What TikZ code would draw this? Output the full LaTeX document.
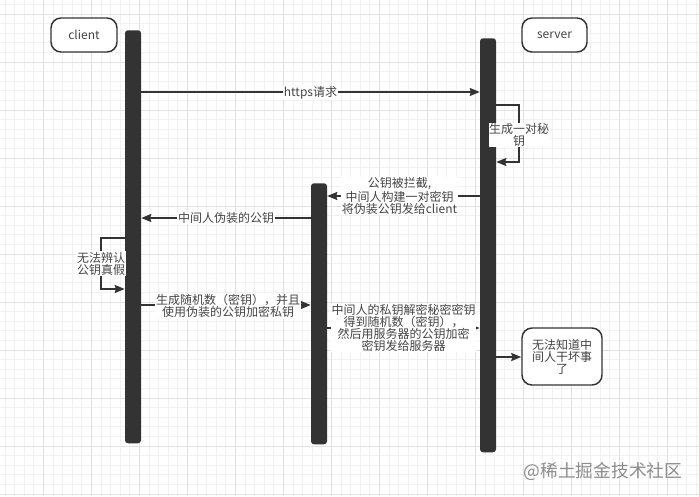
\documentclass[tikz,border=0pt]{standalone}
\usepackage{fontspec}
\setmainfont{Noto Sans CJK SC}
\usetikzlibrary{arrows.meta}
\definecolor{ink}{HTML}{333333}
\definecolor{txt}{HTML}{444444}
\definecolor{gridminor}{HTML}{F1F1F1}
\definecolor{gridmajor}{HTML}{E0E0E0}
\tikzset{
  bar/.style={fill=ink,draw=none,rounded corners=2.2pt,minimum width=12pt,inner sep=0pt,anchor=north},
  actor/.style={draw=ink,line width=1.1pt,fill=white,rounded corners=7.5pt,text=txt,font=\fontsize{9}{9}\selectfont,inner sep=0pt,align=center},
  msg/.style={draw=ink,line width=1.2pt,-{Stealth[length=7.5pt,width=6pt,inset=0.8pt]}},
  lab/.style={fill=white,text=txt,font=\fontsize{9}{9}\selectfont,inner sep=0.6pt,align=center}
}
\begin{document}
\begin{tikzpicture}[x=0.75pt,y=-0.75pt]
\useasboundingbox (0,0) rectangle (699,496);
\fill[white] (0,0) rectangle (699,496);
\foreach \k in {0,...,73} {\draw[gridminor,line width=0.6pt] ({-4.7+9.6*\k},0) -- ({-4.7+9.6*\k},496);}
\foreach \k in {0,...,52} {\draw[gridminor,line width=0.6pt] (0,{4.4+9.6*\k}) -- (699,{4.4+9.6*\k});}
\foreach \k in {0,...,14} {\draw[gridmajor,line width=0.7pt] ({43.3+48*\k},0) -- ({43.3+48*\k},496);}
\foreach \k in {0,...,10} {\draw[gridmajor,line width=0.7pt] (0,{14+48*\k}) -- (699,{14+48*\k});}

\node[actor,minimum width=49.5pt,minimum height=25.5pt] (cl) at (84,35) {client};
\node[actor,minimum width=48.75pt,minimum height=25.5pt] (sv) at (554.5,35) {server};
\node[bar,minimum height=309.75pt] (lc) at (133,30) {};
\node[bar,minimum height=310.5pt] (ls) at (488,38) {};
\node[bar,minimum height=195.75pt] (lm) at (319,183) {};
\node[actor,text width=56pt,minimum width=60pt,minimum height=42.75pt] (nk) at (562,356.5) {无法知道中\\间人干坏事\\了};

\coordinate (a1) at (0,92);
\coordinate (a2) at (0,196);
\coordinate (a3) at (0,218);
\coordinate (a4) at (0,305);
\coordinate (a5) at (0,328);
\coordinate (a6) at (0,357);
\coordinate (s1) at (519,105);
\coordinate (s2) at (519,162);
\coordinate (c1) at (101,238);
\coordinate (c2) at (101,289);

\draw[msg] (lc.east |- a1) -- node[lab,yshift=-0.75pt] (t1) {https请求} (ls.west |- a1);
\draw[msg] (ls.east |- s1) -- (s1) -- (s2) -- (ls.east |- s2);
\node[lab,minimum width=45pt,minimum height=18pt,inner sep=0pt] (t2) at (519,134.5) {生成一对秘\\钥};
\draw[msg] (ls.west |- a2) -- node[lab,xshift=-3pt] (t3) {公钥被拦截,\\中间人构建一对密钥\\将伪装公钥发给client} (lm.east |- a2);
\draw[msg] (lm.west |- a3) -- node[lab] (t4) {中间人伪装的公钥} (lc.east |- a3);
\draw[msg] (lc.west |- c1) -- (c1) -- (c2) -- (lc.west |- c2);
\node[lab] (t5) at (101,263.5) {无法辨认\\公钥真假};
\draw[msg] (lc.east |- a4) -- node[lab,xshift=1.5pt,yshift=-1pt] (t6) {生成随机数（密钥），并且\\使用伪装的公钥加密私钥} (lm.west |- a4);
\draw[msg] (lm.east |- a5) -- node[lab,yshift=0pt] (t7) {中间人的私钥解密秘密密钥\\得到随机数（密钥），\\然后用服务器的公钥加密\\密钥发给服务器} (ls.west |- a5);
\draw[msg] (ls.east |- a6) -- (nk.west |- a6);
\node[text=black!45,font=\fontsize{13.3}{13}\selectfont,inner sep=0pt] (wm) at (603,471) {@稀土掘金技术社区};
\end{tikzpicture}
\end{document}
